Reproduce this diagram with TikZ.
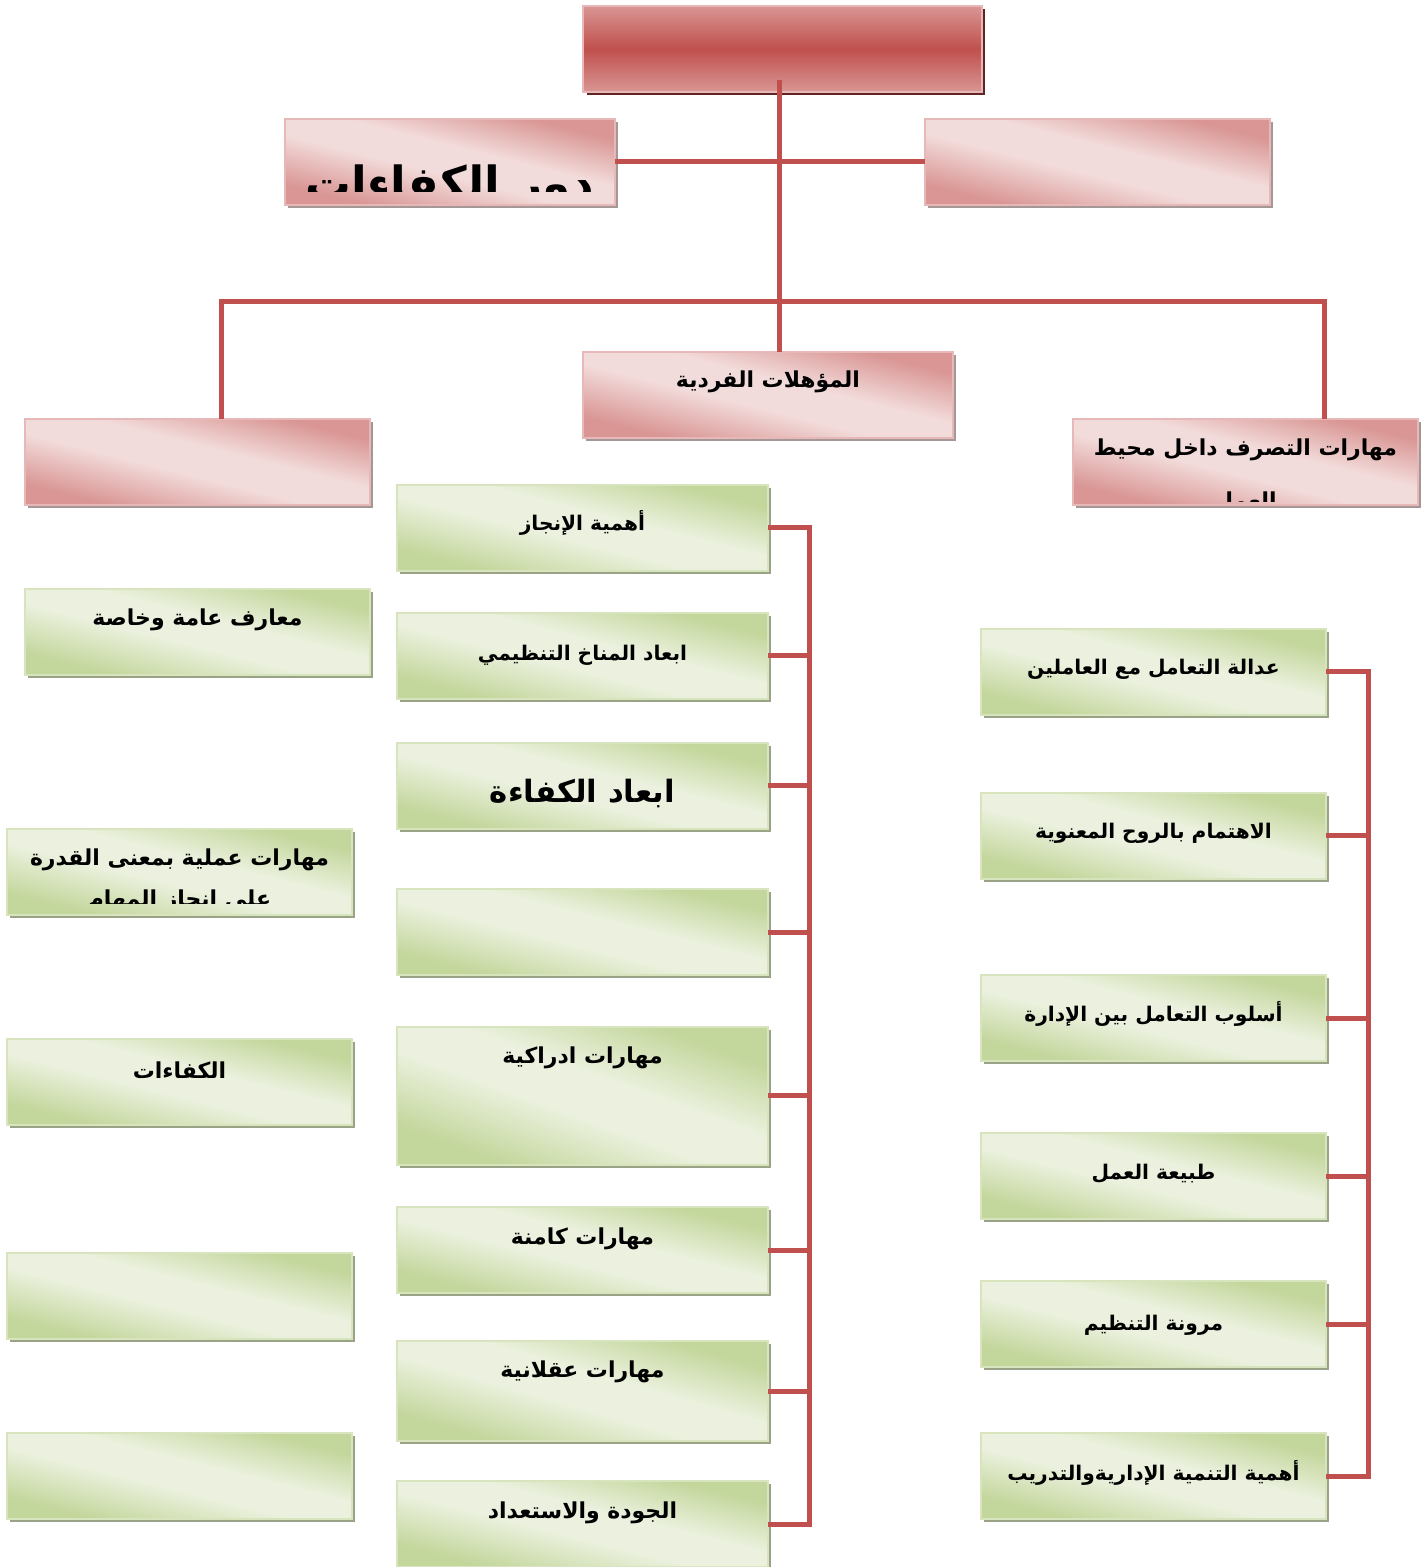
\documentclass[tikz,border=0pt]{standalone}
\usepackage{fontspec}
\newfontfamily\arabicfont[Script=Arabic]{DejaVu Sans}
\TeXXeTstate=1
\usetikzlibrary{calc,shadows}

\definecolor{linkred}{HTML}{C0504D}
\definecolor{headred}{HTML}{C0504D}
\definecolor{pinkdark}{HTML}{D99694}
\definecolor{pinklight}{HTML}{F2DCDB}
\definecolor{pinkline}{HTML}{E6B9B8}
\definecolor{pinkshadow}{HTML}{A69797}
\definecolor{greendark}{HTML}{C3D69B}
\definecolor{greenlight}{HTML}{EBF1DE}
\definecolor{greenline}{HTML}{D7E4BD}
\definecolor{greenshadow}{HTML}{9BA386}
\definecolor{headshadow}{HTML}{632523}

\pgfdeclareverticalshading{pinkglow}{100bp}{color(0bp)=(pinkdark); color(27bp)=(pinkdark); color(45bp)=(pinklight); color(56bp)=(pinklight); color(73bp)=(pinkdark); color(100bp)=(pinkdark)}
\pgfdeclareverticalshading{greenglow}{100bp}{color(0bp)=(greendark); color(27bp)=(greendark); color(45bp)=(greenlight); color(56bp)=(greenlight); color(73bp)=(greendark); color(100bp)=(greendark)}

\newcommand{\rtl}[1]{\beginR#1\endR}

\begin{document}
\begin{tikzpicture}[x=0.02cm, y=-0.02cm,
  box/.style={rectangle, anchor=north west, inner sep=0pt, outer sep=0pt, minimum height=1.72cm},
  headbox/.style={box, draw=pinkline, line width=1.2pt, top color=pinkdark, bottom color=pinkdark, middle color=headred,
    general shadow={fill=headshadow, shadow xshift=0.07cm, shadow yshift=-0.07cm}},
  pinkbox/.style={box, draw=pinkline, line width=1.2pt, shade, shading=pinkglow, shading angle=-14,
    general shadow={fill=pinkshadow, shadow xshift=0.06cm, shadow yshift=-0.06cm}},
  greenbox/.style={box, draw=greenline, line width=1.2pt, shade, shading=greenglow, shading angle=-14,
    general shadow={fill=greenshadow, shadow xshift=0.06cm, shadow yshift=-0.06cm}},
  txt/.style={anchor=base, inner sep=0pt, font=\arabicfont\bfseries\fontsize{12.5}{15}\selectfont},
  naskh/.style={txt, font=\arabicfont\bfseries\fontsize{11.5}{14}\selectfont},
  bigtxt/.style={txt, font=\arabicfont\bfseries\fontsize{17.5}{21}\selectfont},
  hugetxt/.style={txt, font=\arabicfont\bfseries\fontsize{26}{30}\selectfont},
  link/.style={draw=linkred, line width=0.1cm}]
  \useasboundingbox (0,0) rectangle (1427,1567);

  % upper part
  \node[headbox, minimum width=7.98cm] (head) at (583,6) {};
  \node[pinkbox, minimum width=6.6cm] (role) at (285,119) {};
  \node[pinkbox, minimum width=6.9cm] (side) at (925,119) {};
  \node[pinkbox, minimum width=7.4cm] (qualif) at (583,352) {};
  \node[pinkbox, minimum width=6.9cm] (know) at (25,419) {};
  \node[pinkbox, minimum width=6.9cm] (conduct) at (1073,419) {};

  % left column
  \node[greenbox, minimum width=6.9cm] (k1) at (25,589) {};
  \node[greenbox, minimum width=6.9cm] (k2) at (7,829) {};
  \node[greenbox, minimum width=6.9cm] (k3) at (7,1039) {};
  \node[greenbox, minimum width=6.9cm] (k4) at (7,1253) {};
  \node[greenbox, minimum width=6.9cm] (k5) at (7,1433) {};

  % middle column
  \node[greenbox, minimum width=7.42cm] (m1) at (397,485) {};
  \node[greenbox, minimum width=7.42cm] (m2) at (397,613) {};
  \node[greenbox, minimum width=7.42cm] (m3) at (397,743) {};
  \node[greenbox, minimum width=7.42cm] (m4) at (397,889) {};
  \node[greenbox, minimum width=7.42cm, minimum height=2.76cm, shading angle=-20] (m5) at (397,1027) {};
  \node[greenbox, minimum width=7.42cm] (m6) at (397,1207) {};
  \node[greenbox, minimum width=7.42cm, minimum height=2cm, shading angle=-16] (m7) at (397,1341) {};
  \node[greenbox, minimum width=7.42cm] (m8) at (397,1481) {};

  % right column
  \node[greenbox, minimum width=6.9cm] (r1) at (981,629) {};
  \node[greenbox, minimum width=6.9cm] (r2) at (981,793) {};
  \node[greenbox, minimum width=6.9cm] (r3) at (981,975) {};
  \node[greenbox, minimum width=6.9cm] (r4) at (981,1133) {};
  \node[greenbox, minimum width=6.9cm] (r5) at (981,1281) {};
  \node[greenbox, minimum width=6.9cm] (r6) at (981,1433) {};

  % connectors
  \coordinate (stem) at (779,80);
  \coordinate (jl) at (221,302);
  \coordinate (jr) at (1324,302);
  \coordinate (busM) at (809,0);
  \coordinate (busR) at (1368,0);
  \draw[link] (stem) -- (stem |- qualif.north);
  \draw[link] (role.east) -- (side.west);
  \draw[link] (jl |- know.north) -- (jl) -- (jr) -- (jr |- conduct.north);
  \draw[link] (m1.east) -- (m1.east -| busM) -- (m8.east -| busM) -- (m8.east);
  \foreach \n in {m2,m3,m4,m5,m6,m7}
    \draw[link] (\n.east) -- (\n.east -| busM);
  \draw[link] (r1.east) -- (r1.east -| busR) -- (r6.east -| busR) -- (r6.east);
  \foreach \n in {r2,r3,r4,r5}
    \draw[link] (\n.east) -- (\n.east -| busR);

  % texts
  \path (qualif.north) ++(0,36) node[txt] (qualifT) {\rtl{المؤهلات الفردية}};
  \path (conduct.north) ++(0,36) node[txt] (conductT) {\rtl{مهارات التصرف داخل محيط}};
  \begin{scope}
    \clip (1075,421) rectangle (1416,501);
    \path (conduct.north) ++(0,89) node[txt] (conductU) {\rtl{العمل}};
  \end{scope}
  \begin{scope}
    \clip (287,121) rectangle (613,192);
    \path (role.north) ++(0,81) node[hugetxt] (roleT) {\rtl{دور الكفاءات}};
  \end{scope}

  \path (k1.north) ++(0,36) node[txt] (k1T) {\rtl{معارف عامة وخاصة}};
  \path (k2.north) ++(0,36) node[txt] (k2T) {\rtl{مهارات عملية بمعنى القدرة}};
  \begin{scope}
    \clip (9,831) rectangle (350,903);
    \path (k2.north) ++(0,77) node[txt] (k2U) {\rtl{على انجاز المهام}};
  \end{scope}
  \path (k3.north) ++(0,39) node[txt] (k3T) {\rtl{الكفاءات}};

  \path (m1.north) ++(0,45) node[naskh] (m1T) {\rtl{أهمية الإنجاز}};
  \path (m2.north) ++(0,47) node[naskh] (m2T) {\rtl{ابعاد المناخ التنظيمي}};
  \path (m3.north) ++(0,59) node[bigtxt] (m3T) {\rtl{ابعاد الكفاءة}};
  \path (m5.north) ++(0,36) node[txt] (m5T) {\rtl{مهارات ادراكية}};
  \path (m6.north) ++(0,37) node[txt] (m6T) {\rtl{مهارات كامنة}};
  \path (m7.north) ++(0,36) node[txt] (m7T) {\rtl{مهارات عقلانية}};
  \path (m8.north) ++(0,37) node[txt] (m8T) {\rtl{الجودة والاستعداد}};

  \path (r1.north) ++(0,45) node[naskh] (r1T) {\rtl{عدالة التعامل مع العاملين}};
  \path (r2.north) ++(0,45) node[naskh] (r2T) {\rtl{الاهتمام بالروح المعنوية}};
  \path (r3.north) ++(0,46) node[naskh] (r3T) {\rtl{أسلوب التعامل بين الإدارة}};
  \path (r4.north) ++(0,46) node[naskh] (r4T) {\rtl{طبيعة العمل}};
  \path (r5.north) ++(0,49) node[naskh] (r5T) {\rtl{مرونة التنظيم}};
  \path (r6.north) ++(0,47) node[naskh] (r6T) {\rtl{أهمية التنمية الإداريةوالتدريب}};
\end{tikzpicture}
\end{document}
